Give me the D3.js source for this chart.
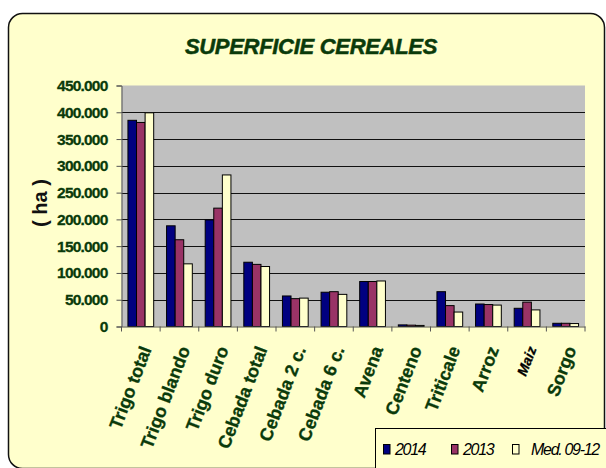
<!DOCTYPE html>
<html>
<head>
<meta charset="utf-8">
<script src="https://cdn.jsdelivr.net/npm/d3@7"></script>
<style>
  body { margin: 0; background: #fff; }
  svg { display: block; font-family: "Liberation Sans", Arial, sans-serif; }
</style>
</head>
<body>
<script>
const categories = ['Trigo total', 'Trigo blando', 'Trigo duro', 'Cebada total', 'Cebada 2 c.',
  'Cebada 6 c.', 'Avena', 'Centeno', 'Triticale', 'Arroz', 'Maiz', 'Sorgo'];
const seriesNames = ['2014', '2013', 'Med. 09-12'];
const v2014 = [385000, 188000, 199000, 120000, 57000, 64000, 84000, 3000, 65000, 42000, 34000, 6000];
const v2013 = [381000, 162000, 221000, 116000, 52000, 65000, 84000, 2500, 39000, 41000, 45500, 6000];
const vMed = [399000, 117000, 283000, 112000, 53000, 60000, 85000, 2000, 27000, 40000, 31000, 5500];
const yTicks = [0, 50000, 100000, 150000, 200000, 250000, 300000, 350000, 400000, 450000];

const colors = ['#000080', '#993366', '#ffffcc'];
const green = '#0a3a0a';
const width = 606;
const height = 468;
const plot = {left: 121.5, right: 585, top: 85.5, bottom: 326.5};

const svg = d3.select('body').append('svg')
    .attr('width', width)
    .attr('height', height);

// chart area
svg.append('rect')
    .attr('x', 8.5).attr('y', 13.5)
    .attr('width', 596).attr('height', 455)
    .attr('rx', 14)
    .attr('fill', '#ffffcc')
    .attr('stroke', '#111')
    .attr('stroke-width', 1.5);

svg.append('text')
    .attr('x', 311).attr('y', 53.5)
    .attr('text-anchor', 'middle')
    .attr('font-size', 22)
    .attr('font-weight', 'bold')
    .attr('font-style', 'italic')
    .attr('letter-spacing', -0.3)
    .attr('fill', green)
    .attr('stroke', green)
    .attr('stroke-width', 0.5)
    .text('SUPERFICIE CEREALES');

const x = d3.scaleBand()
    .domain(categories)
    .range([plot.left, plot.right])
    .paddingInner(1.5 / 4.5)
    .paddingOuter(0.75 / 4.5);
const xs = d3.scaleBand()
    .domain(seriesNames)
    .range([0, x.bandwidth()]);
const y = d3.scaleLinear()
    .domain([0, 450000])
    .range([plot.bottom, plot.top]);

svg.append('rect')
    .attr('x', plot.left).attr('y', plot.top)
    .attr('width', plot.right - plot.left)
    .attr('height', plot.bottom - plot.top)
    .attr('fill', '#c0c0c0');

// gridlines
svg.append('g')
  .selectAll('line')
  .data(yTicks.filter(d => d > 0 && d < 450000))
  .enter().append('line')
    .attr('x1', plot.left).attr('x2', plot.right)
    .attr('y1', d => Math.round(y(d)) + 0.5)
    .attr('y2', d => Math.round(y(d)) + 0.5)
    .attr('stroke', '#111');

// bars
const series = [v2014, v2013, vMed];
const groups = svg.append('g')
  .selectAll('g')
  .data(series)
  .enter().append('g')
    .attr('fill', (d, i) => colors[i]);

groups.selectAll('rect')
  .data((d, i) => d.map((v, j) => ({v, c: categories[j], s: seriesNames[i]})))
  .enter().append('rect')
    .attr('x', d => x(d.c) + xs(d.s))
    .attr('y', d => y(d.v))
    .attr('width', xs.bandwidth())
    .attr('height', d => y(0) - y(d.v))
    .attr('stroke', '#000')
    .attr('stroke-width', 1);

// y axis
const fmt = d3.formatLocale({decimal: ',', thousands: '.', grouping: [3]}).format(',d');
const yAxis = svg.append('g')
    .attr('transform', `translate(${plot.left},0)`)
    .call(d3.axisLeft(y).tickValues(yTicks).tickSize(5).tickPadding(9).tickFormat(fmt));
yAxis.select('.domain').attr('stroke', '#555');
yAxis.selectAll('.tick line').attr('stroke', '#555');
yAxis.selectAll('text')
    .attr('fill', green)
    .attr('stroke', green)
    .attr('stroke-width', 0.3)
    .attr('font-size', 15.5)
    .attr('font-weight', 'bold')
    .attr('letter-spacing', -0.8)
    .attr('font-family', '"Liberation Sans", Arial, sans-serif');

// x axis
const xAxis = svg.append('g')
    .attr('transform', `translate(0,${plot.bottom})`)
    .call(d3.axisBottom(x).tickSize(0).tickFormat(''));
xAxis.select('.domain').attr('stroke', '#555');
const step = x.step();
xAxis.selectAll('.bound')
  .data(d3.range(categories.length + 1))
  .enter().append('line')
    .attr('x1', i => plot.left + i * step)
    .attr('x2', i => plot.left + i * step)
    .attr('y1', 0).attr('y2', 5)
    .attr('stroke', '#555');

svg.append('g')
  .selectAll('text')
  .data(categories)
  .enter().append('text')
    .attr('transform', d => `translate(${x(d) + x.bandwidth() / 2 + 5},347) rotate(-69)`)
    .attr('text-anchor', 'end')
    .attr('dy', '0.35em')
    .attr('font-size', d => d === 'Maiz' ? 14 : 18)
    .attr('font-weight', 'bold')
    .attr('font-style', d => d === 'Maiz' ? 'italic' : 'normal')
    .attr('fill', d => d === 'Maiz' ? '#000' : green)
    .attr('stroke', d => d === 'Maiz' ? '#000' : green)
    .attr('stroke-width', 0.3)
    .text(d => d);

svg.append('text')
    .attr('transform', 'translate(40,203) rotate(-90)')
    .attr('text-anchor', 'middle')
    .attr('dy', '0.35em')
    .attr('font-size', 20)
    .attr('font-weight', 'bold')
    .attr('fill', '#111')
    .text('( ha )');

// legend
svg.append('rect')
    .attr('x', 375.5).attr('y', 428.5)
    .attr('width', 240).attr('height', 60)
    .attr('fill', '#ffffcc')
    .attr('stroke', '#000');

const legendX = [383, 451, 512];
const legend = svg.append('g')
  .selectAll('g')
  .data(seriesNames)
  .enter().append('g')
    .attr('transform', (d, i) => `translate(${legendX[i]},444.5)`);
legend.append('rect')
    .attr('x', 0.5)
    .attr('width', 6.5).attr('height', 9.5)
    .attr('fill', (d, i) => colors[i])
    .attr('stroke', '#000');
legend.append('text')
    .attr('x', (d, i) => i === 2 ? 19 : 12)
    .attr('y', 10.5)
    .attr('font-size', 16)
    .attr('font-style', 'italic')
    .attr('letter-spacing', -1.3)
    .attr('fill', '#000')
    .text(d => d);
</script>
</body>
</html>
